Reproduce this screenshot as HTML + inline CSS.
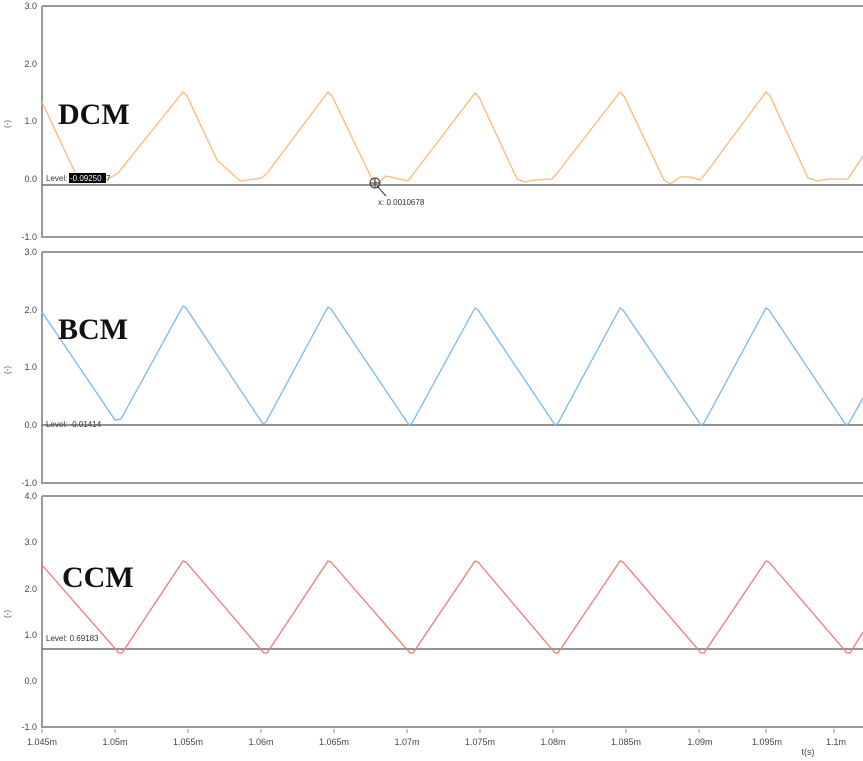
<!DOCTYPE html>
<html><head><style>body{margin:0;background:#fff}svg{display:block}</style></head><body>
<svg width="863" height="761" xmlns="http://www.w3.org/2000/svg" font-family="Liberation Sans, sans-serif">
<rect width="863" height="761" fill="#fff"/>
<g stroke="#999" stroke-width="2" fill="none">
<line x1="42" y1="6" x2="42" y2="238"/><line x1="42" y1="6" x2="863" y2="6"/><line x1="42" y1="237" x2="863" y2="237"/>
<line x1="42" y1="252" x2="42" y2="484"/><line x1="42" y1="252" x2="863" y2="252"/><line x1="42" y1="483" x2="863" y2="483"/>
<line x1="42" y1="496" x2="42" y2="728"/><line x1="42" y1="496" x2="863" y2="496"/><line x1="42" y1="727" x2="863" y2="727"/>
</g>
<g font-size="9" fill="#444" text-anchor="end">
<text x="37" y="9">3.0</text><text x="37" y="67">2.0</text><text x="37" y="124">1.0</text><text x="37" y="182">0.0</text><text x="37" y="240">-1.0</text>
<text x="37" y="255">3.0</text><text x="37" y="313">2.0</text><text x="37" y="370">1.0</text><text x="37" y="428">0.0</text><text x="37" y="486">-1.0</text>
<text x="37" y="499">4.0</text><text x="37" y="545">3.0</text><text x="37" y="592">2.0</text><text x="37" y="638">1.0</text><text x="37" y="684">0.0</text><text x="37" y="730">-1.0</text>
</g>
<g font-size="8" fill="#444"><text transform="translate(10,124) rotate(-90)" text-anchor="middle">(-)</text><text transform="translate(10,370) rotate(-90)" text-anchor="middle">(-)</text><text transform="translate(10,614) rotate(-90)" text-anchor="middle">(-)</text></g>
<g stroke="#888" stroke-width="1">
<line x1="42" y1="729" x2="42" y2="733"/><line x1="115" y1="729" x2="115" y2="733"/><line x1="188" y1="729" x2="188" y2="733"/><line x1="261" y1="729" x2="261" y2="733"/><line x1="334" y1="729" x2="334" y2="733"/><line x1="407" y1="729" x2="407" y2="733"/><line x1="480" y1="729" x2="480" y2="733"/><line x1="553" y1="729" x2="553" y2="733"/><line x1="626" y1="729" x2="626" y2="733"/><line x1="699" y1="729" x2="699" y2="733"/><line x1="766" y1="729" x2="766" y2="733"/><line x1="834" y1="729" x2="834" y2="733"/>
</g>
<g font-size="9" fill="#444" text-anchor="middle">
<text x="42" y="745">1.045m</text><text x="115" y="745">1.05m</text><text x="188" y="745">1.055m</text><text x="261" y="745">1.06m</text><text x="334" y="745">1.065m</text><text x="407" y="745">1.07m</text><text x="480" y="745">1.075m</text><text x="553" y="745">1.08m</text><text x="626" y="745">1.085m</text><text x="700" y="745">1.09m</text><text x="767" y="745">1.095m</text><text x="836" y="745">1.1m</text>
<text x="808" y="755">t(s)</text>
</g>
<g stroke="#555" stroke-width="1.3"><line x1="42" y1="185" x2="863" y2="185"/><line x1="42" y1="425" x2="863" y2="425"/><line x1="42" y1="649" x2="863" y2="649"/></g>
<polyline fill="none" stroke="#ffb878" stroke-width="1.3" points="42,102 78,179 92,181 108,179 118,173 183,92 187,96 217,160 240,181 262,178 268,172 328,92 332,96 372,179 378,183 386,176 395,178 408,181 414,173 475,93 479,97 517,179 525,182 535,180 552,179 558,172 620,92 624,96 664,180 670,184 680,177 690,177 700,180 706,173 766,92 770,96 808,178 818,181 828,179 848,179 863,156"/>
<polyline fill="none" stroke="#7ab8f0" stroke-width="1.3" points="42,312 115,420 121,419 183,306 186,308 263,424 266,422 328,307 331,309 409,425 412,423 475,308 478,310 555,425 558,423 620,308 623,310 701,425 704,423 766,308 769,310 846,425 849,423 863,398"/>
<polyline fill="none" stroke="#f37878" stroke-width="1.3" points="42,565 119,653 122,653 183,561 186,562 264,653 267,653 328,561 331,562 410,653 413,653 475,561 478,562 555,653 558,653 620,561 623,562 701,653 704,653 766,561 769,562 847,653 850,653 863,632"/>
<g font-size="8" fill="#333"><text x="46" y="181">Level:</text><rect x="69" y="173" width="37" height="10" fill="#000"/><text x="70" y="181" fill="#fff">-0.09250</text><text x="106" y="181">7</text>
<text x="46" y="427">Level: -0.01414</text><text x="46" y="641">Level: 0.69183</text>
<text x="378" y="205">x: 0.0010678</text></g>
<g stroke="#333" fill="none" stroke-width="1"><circle cx="375" cy="183" r="5"/><line x1="370" y1="183" x2="380" y2="183"/><line x1="375" y1="178" x2="375" y2="188"/><line x1="377" y1="186" x2="386" y2="196"/></g>
<g font-family="Liberation Serif, serif" font-weight="bold" font-size="30" fill="#111"><text x="58" y="124">DCM</text><text x="58" y="339">BCM</text><text x="62" y="587">CCM</text></g>
</svg>
</body></html>
